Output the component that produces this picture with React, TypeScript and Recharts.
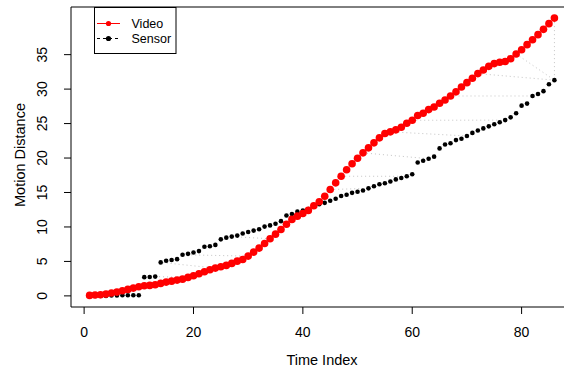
import React from 'react';
import { ComposedChart, Line, XAxis, YAxis, ReferenceArea } from 'recharts';

const timeIndex = [
  1, 2, 3, 4, 5, 6, 7, 8, 9, 10, 11, 12, 13, 14, 15, 16, 17, 18, 19, 20,
  21, 22, 23, 24, 25, 26, 27, 28, 29, 30, 31, 32, 33, 34, 35, 36, 37, 38, 39, 40,
  41, 42, 43, 44, 45, 46, 47, 48, 49, 50, 51, 52, 53, 54, 55, 56, 57, 58, 59, 60,
  61, 62, 63, 64, 65, 66, 67, 68, 69, 70, 71, 72, 73, 74, 75, 76, 77, 78, 79, 80,
  81, 82, 83, 84, 85, 86,
];

const video = [
  0.07, 0.12, 0.17, 0.26, 0.41, 0.55, 0.75, 0.94, 1.13, 1.33,
  1.48, 1.52, 1.62, 1.81, 2.0, 2.14, 2.29, 2.43, 2.68, 2.93,
  3.22, 3.5, 3.8, 4.03, 4.23, 4.42, 4.71, 5.04, 5.29, 5.77,
  6.35, 6.93, 7.6, 8.29, 8.96, 9.64, 10.4, 11.1, 11.57, 11.96,
  12.4, 13.07, 13.65, 14.46, 15.43, 16.4, 17.36, 18.29, 19.16, 19.97,
  20.75, 21.48, 22.2, 22.93, 23.55, 23.8, 24.09, 24.46, 25.04, 25.48,
  26.16, 26.5, 27.03, 27.4, 27.94, 28.43, 29.0, 29.6, 30.3, 30.94,
  31.57, 32.25, 32.78, 33.3, 33.7, 33.9, 34.0, 34.4, 35.1, 35.7,
  36.45, 37.17, 37.9, 38.67, 39.5, 40.3,
];

const sensor = [
  0, 0, 0, 0, 0.05, 0.05, 0.1, 0.1, 0.1, 0.1,
  2.72, 2.75, 2.8, 4.86, 5.1, 5.2, 5.33, 5.97, 6.1, 6.3,
  6.5, 7.13, 7.2, 7.4, 8.2, 8.45, 8.6, 8.75, 9.05, 9.27,
  9.47, 9.67, 10.05, 10.23, 10.46, 10.84, 11.67, 11.88, 12.22, 12.38,
  12.6, 12.95, 13.3, 13.5, 13.8, 14.1, 14.5, 14.67, 14.95, 15.1,
  15.3, 15.6, 15.9, 16.2, 16.35, 16.6, 16.9, 17.1, 17.35, 17.65,
  19.35, 19.6, 19.9, 20.2, 21.4, 21.96, 22.15, 22.6, 22.8, 23.2,
  23.65, 24.0, 24.3, 24.6, 24.9, 25.2, 25.5, 25.9, 26.5, 27.6,
  27.9, 29.0, 29.3, 29.7, 30.7, 31.3,
];

// alignment pairs: [video index, sensor index]
const alignPairs: [number, number][] = [
  [19, 13], [24, 14], [30, 18], [34, 27], [45, 52], [47, 59], [51, 63],
  [56, 70], [60, 77], [67, 82], [72, 86], [79, 86], [86, 86],
];

const xTicks = [0, 20, 40, 60, 80];
const yTicks = [0, 5, 10, 15, 20, 25, 30, 35];
const seriesNames = ['Video', 'Sensor'];
const xTitle = 'Time Index';
const yTitle = 'Motion Distance';

const data = timeIndex.map((t, i) => ({ t, video: video[i], sensor: sensor[i] }));
const linkData = alignPairs.map(([v, s]) => [
  { t: v, y: video[v - 1] },
  { t: s, y: sensor[s - 1] },
]);

const X_DOMAIN: [number, number] = [-2.4, 89.4];
const Y_DOMAIN: [number, number] = [-1.612, 41.912];
const FONT = '"Liberation Sans", Arial, Helvetica, sans-serif';

const RedDot = (p: any) =>
  p.cx == null || p.cy == null ? <g key={p.key} /> : (
    <circle key={p.key} cx={p.cx} cy={p.cy} r={3.8} fill="#FF0000" />
  );

const BlackDot = (p: any) =>
  p.cx == null || p.cy == null ? <g key={p.key} /> : (
    <circle key={p.key} cx={p.cx} cy={p.cy} r={2.3} fill="#000000" />
  );

const XTick = ({ x, payload }: any) => (
  <text x={x} y={337} textAnchor="middle" fontSize={14} fontFamily={FONT} fill="#000">
    {payload.value}
  </text>
);

const YTick = ({ y, payload }: any) => (
  <text
    x={0}
    y={0}
    transform={`translate(47,${y}) rotate(-90)`}
    textAnchor="middle"
    fontSize={14}
    fontFamily={FONT}
    fill="#000"
  >
    {payload.value}
  </text>
);

const XTitle = () => (
  <text x={322} y={365} textAnchor="middle" fontSize={14.5} fontFamily={FONT} fill="#000">
    {xTitle}
  </text>
);

const YTitle = () => (
  <text
    x={0}
    y={0}
    transform="translate(25,155) rotate(-90)"
    textAnchor="middle"
    fontSize={14.5}
    fontFamily={FONT}
    fill="#000"
  >
    {yTitle}
  </text>
);

const LegendBox = () => (
  <svg width={84} height={48} style={{ display: 'block' }}>
    <rect x={0.5} y={0.5} width={81.5} height={46} fill="#fff" stroke="#000" strokeWidth={1} />
    <line x1={3} y1={16.5} x2={26} y2={16.5} stroke="#FF0000" strokeWidth={1} />
    <circle cx={14.5} cy={16.5} r={2.6} fill="#FF0000" />
    <text x={37.5} y={21} fontSize={12.5} fontFamily={FONT} fill="#000">{seriesNames[0]}</text>
    <line x1={3} y1={31.5} x2={26} y2={31.5} stroke="#000" strokeWidth={1} strokeDasharray="3 3" />
    <circle cx={14.5} cy={31.5} r={2.6} fill="#000" />
    <text x={37.5} y={36} fontSize={12.5} fontFamily={FONT} fill="#000">{seriesNames[1]}</text>
  </svg>
);

export default function App() {
  return (
    <div
      style={{
        position: 'absolute',
        left: 0,
        top: 0,
        width: 564,
        height: 373,
        overflow: 'hidden',
        background: '#fff',
      }}
    >
      <ComposedChart
        width={600}
        height={373}
        data={data}
        margin={{ top: 7, right: 27, bottom: 0, left: 11 }}
      >
        <XAxis
          type="number"
          dataKey="t"
          domain={X_DOMAIN}
          ticks={xTicks}
          allowDataOverflow
          height={66}
          axisLine={false}
          tickLine={{ stroke: '#000' }}
          tickSize={7}
          tick={<XTick />}
          label={<XTitle />}
          interval={0}
        />
        <YAxis
          type="number"
          domain={Y_DOMAIN}
          ticks={yTicks}
          allowDataOverflow
          width={60}
          axisLine={false}
          tickLine={{ stroke: '#000' }}
          tickSize={7}
          tick={<YTick />}
          label={<YTitle />}
          interval={0}
        />
        <ReferenceArea
          x1={X_DOMAIN[0]}
          x2={X_DOMAIN[1]}
          y1={Y_DOMAIN[0]}
          y2={Y_DOMAIN[1]}
          fill="none"
          fillOpacity={0}
          stroke="#000"
          strokeWidth={1}
          ifOverflow="visible"
        />
        {linkData.map((seg, k) => (
          <Line
            key={`link-${k}`}
            data={seg}
            dataKey="y"
            type="linear"
            stroke="#c4c4c4"
            strokeWidth={1}
            strokeDasharray="1 3"
            dot={false}
            activeDot={false}
            isAnimationActive={false}
            legendType="none"
          />
        ))}
        <Line
          dataKey="sensor"
          name={seriesNames[1]}
          stroke="none"
          dot={BlackDot}
          activeDot={false}
          isAnimationActive={false}
        />
        <Line
          dataKey="video"
          name={seriesNames[0]}
          stroke="none"
          dot={RedDot}
          activeDot={false}
          isAnimationActive={false}
        />
      </ComposedChart>
      <div style={{ position: 'absolute', left: 94, top: 7 }}>
        <LegendBox />
      </div>
    </div>
  );
}
